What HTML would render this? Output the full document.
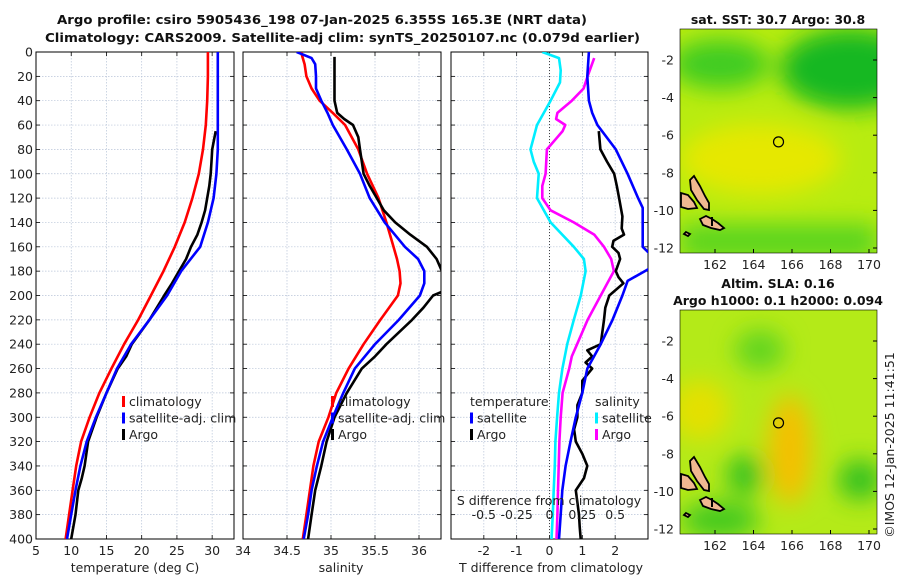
<!DOCTYPE html>
<html><head><meta charset="utf-8">
<style>
body{margin:0;background:#fff;}
svg{display:block;font-family:"DejaVu Sans","Liberation Sans",sans-serif;}
.t{font-size:12.5px;fill:#222;}
.b{font-size:12.5px;font-weight:bold;fill:#111;}
</style></head>
<body>
<svg id="c" width="900" height="580" viewBox="0 0 900 580">
<defs>
<clipPath id="cp1"><rect x="36" y="52" width="198" height="487"/></clipPath>
<clipPath id="cp2"><rect x="243" y="52" width="198" height="487"/></clipPath>
<clipPath id="cp3"><rect x="451" y="52" width="197" height="487"/></clipPath>
<filter id="bl"><feGaussianBlur stdDeviation="12"/></filter>
<clipPath id="m1c"><rect x="680" y="29" width="197" height="224"/></clipPath>
<clipPath id="m2c"><rect x="680" y="310" width="197" height="224"/></clipPath>
</defs>
<text class="b" x="57" y="24" textLength="530" lengthAdjust="spacingAndGlyphs">Argo profile: csiro 5905436_198 07-Jan-2025 6.355S 165.3E (NRT data)</text>
<text class="b" x="45" y="42" textLength="595" lengthAdjust="spacingAndGlyphs">Climatology: CARS2009. Satellite-adj clim: synTS_20250107.nc (0.079d earlier)</text>
<g id="g"></g>
</svg>
<script>
// ---- data ----
const depthT = [0,20,40,60,80,100,120,140,160,180,200,220,240,260,280,300,320,340,360,380,400];
const tempClim = [29.4,29.4,29.3,29.1,28.7,28.1,27.2,26.1,24.7,23.1,21.3,19.5,17.5,15.7,14.0,12.6,11.4,10.7,10.2,9.7,9.2];
const tempSat = [30.8,30.8,30.8,30.8,30.8,30.6,30.2,29.4,28.3,25.6,23.6,21.1,18.5,16.5,15.0,13.5,12.2,11.3,10.6,10.0,9.4];
const depthArgo = [65,80,90,100,110,120,130,140,150,160,170,180,190,200,220,240,250,260,280,300,320,340,350,360,380,400];
const tempArgo = [30.5,30.0,29.9,29.8,29.6,29.3,29.0,28.5,27.9,27.0,26.3,25.3,24.3,23.2,21.1,18.6,17.8,16.6,15.0,13.6,12.4,11.9,11.5,11.0,10.6,10.0];
const depthS = [0,5,10,20,30,40,50,60,80,100,120,140,160,170,180,190,200,220,240,260,280,300,320,340,360,380,400];
const salClim = [34.66,34.68,34.70,34.72,34.78,34.87,35.02,35.16,35.31,35.41,35.54,35.63,35.71,35.75,35.78,35.79,35.76,35.56,35.37,35.20,35.06,34.97,34.86,34.80,34.76,34.72,34.68];
const salSat = [34.61,34.78,34.82,34.83,34.83,34.89,34.96,35.02,35.18,35.33,35.44,35.61,35.84,35.99,36.06,36.06,36.01,35.77,35.50,35.27,35.14,35.02,34.91,34.84,34.78,34.74,34.69];
const depthSA = [4,20,40,50,55,60,70,80,100,110,120,130,140,150,160,170,180,190,197,200,210,220,240,250,260,280,300,320,340,360,380,400];
const salArgo = [35.04,35.04,35.04,35.07,35.15,35.25,35.31,35.33,35.37,35.44,35.52,35.60,35.73,35.90,36.09,36.20,36.26,36.40,36.26,36.16,36.05,35.92,35.63,35.50,35.35,35.18,35.04,34.95,34.89,34.82,34.78,34.74];
const depthD = [0,20,40,50,60,80,100,120,128,140,160,167,177,188,200,220,240,260,280,300,320,340,360,380,400];
const tdiffSat = [1.2,1.15,1.2,1.3,1.46,2.02,2.38,2.7,2.84,2.84,2.84,3.1,3.1,2.38,2.22,1.92,1.56,1.15,1.0,0.8,0.64,0.49,0.39,0.34,0.29];
const depthDA = [65,80,90,100,110,120,135,145,150,155,160,165,170,180,185,190,200,210,220,240,245,250,255,260,270,280,290,300,310,320,330,340,350,360,370,380,390,400];
const tdiffArgo = [1.5,1.55,1.75,1.97,2.05,2.12,2.22,2.2,2.27,1.95,1.91,2.1,2.15,2.02,2.1,2.25,1.82,1.7,1.66,1.56,1.15,1.3,1.1,1.3,1.0,1.0,0.85,0.85,0.75,0.8,1.0,1.15,1.05,0.8,0.85,0.9,0.92,0.95];
const depthDS = [0,5,15,25,40,60,80,90,100,120,140,160,170,180,200,220,240,260,280,300,320,340,360,380,400];
const sdiffSat = [-0.055,0.072,0.085,0.08,0.008,-0.095,-0.145,-0.12,-0.082,-0.095,0.008,0.185,0.262,0.275,0.238,0.185,0.135,0.098,0.072,0.058,0.045,0.04,0.032,0.025,0.015];
const depthDM = [5,20,30,40,50,55,60,65,70,80,100,110,120,130,140,150,160,170,180,190,200,220,240,250,260,280,300,320,340,360,380,400];
const sdiffArgo = [0.34,0.29,0.26,0.17,0.06,0.05,0.12,0.1,0.06,-0.02,-0.03,-0.055,-0.055,0.008,0.185,0.34,0.415,0.47,0.49,0.44,0.39,0.29,0.21,0.17,0.15,0.1,0.085,0.075,0.07,0.065,0.06,0.053];
const tempTicks = [5,10,15,20,25,30];
const salTicks = [34,34.5,35,35.5,36];
const tdTicks = [-2,-1,0,1,2];
const sdTicks = [-0.5,-0.25,0,0.25,0.5];
const depthTicks = [0,20,40,60,80,100,120,140,160,180,200,220,240,260,280,300,320,340,360,380,400];
const lonTicks = [162,164,166,168,170];
const latTicks = [-2,-4,-6,-8,-10,-12];
const argoLon = 165.3, argoLat = -6.355;

const NS="http://www.w3.org/2000/svg";
const G=document.getElementById('g');
function mk(tag,attrs,parent){const e=document.createElementNS(NS,tag);for(const k in attrs)e.setAttribute(k,attrs[k]);(parent||G).appendChild(e);return e;}
const Y0=52,Y1=539;
const yD=d=>Y0+d*(Y1-Y0)/400;
const xT=v=>36+(v-5)*198/28.1;
const xS=v=>243+(v-34)*88;
const xTD=v=>451+(v+3)*197/6;
const xSD=v=>xTD(v*4);

function panel(x0,w,ticks,xf,name,label,lblX,showY){
  const pg=mk('g',{});
  
  
  ticks.forEach(t=>{const x=xf(t);mk('line',{x1:x,x2:x,y1:Y0,y2:Y1,stroke:'#b8c4d8','stroke-width':0.7,'stroke-dasharray':'1.5,1.5'},pg);
    mk('line',{x1:x,x2:x,y1:Y1,y2:Y1-4,stroke:'#000','stroke-width':0.8},pg);mk('line',{x1:x,x2:x,y1:Y0,y2:Y0+4,stroke:'#000','stroke-width':0.8},pg);
    const tx=mk('text',{x:x,y:Y1+16,'text-anchor':'middle',class:'t'},pg);tx.textContent=String(t);
    });
  depthTicks.forEach(d=>{const y=yD(d);mk('line',{x1:x0,x2:x0+w,y1:y,y2:y,stroke:'#b8c4d8','stroke-width':0.7,'stroke-dasharray':'1.5,1.5'},pg);
    mk('line',{x1:x0,x2:x0+4,y1:y,y2:y,stroke:'#000','stroke-width':0.8},pg);mk('line',{x1:x0+w,x2:x0+w-4,y1:y,y2:y,stroke:'#000','stroke-width':0.8},pg);
    if(showY){const tx=mk('text',{x:x0-3,y:y+4.5,'text-anchor':'end',class:'t'},pg);tx.textContent=String(d);
      }});
  mk('rect',{x:x0,y:Y0,width:w,height:Y1-Y0,fill:'none',stroke:'#000','stroke-width':1},pg);
  const l=mk('text',{x:lblX,y:572,'text-anchor':'middle',class:'t'},pg);l.textContent=label;
  
}
panel(36,198,tempTicks,xT,'temperature-panel','temperature (deg C)',135,true);
mk('text',{x:243,y:Y1+16,'text-anchor':'middle',class:'t'}).textContent='34';
panel(243,198,salTicks.slice(1),xS,'salinity-panel','salinity',341,false);
panel(451,197,tdTicks,xTD,'difference-panel','T difference from climatology',551,false);
mk('line',{x1:xTD(0),x2:xTD(0),y1:Y0,y2:Y1,stroke:'#333','stroke-width':0.9,'stroke-dasharray':'1,2'});

function series(ds,vs,xf,color,clip,name){
  const pts=ds.map((d,i)=>xf(vs[i]).toFixed(1)+','+yD(d).toFixed(1)).join(' ');
  const p=mk('polyline',{points:pts,fill:'none',stroke:color,'stroke-width':2.6,'stroke-linejoin':'round','clip-path':'url(#'+clip+')'});
  
  
}
series(depthT,tempClim,xT,'#f00','cp1','temp-climatology-line');
series(depthArgo,tempArgo,xT,'#000','cp1','temp-argo-line');
series(depthT,tempSat,xT,'#00f','cp1','temp-satellite-line');
series(depthS,salClim,xS,'#f00','cp2','sal-climatology-line');
series(depthSA,salArgo,xS,'#000','cp2','sal-argo-line');
series(depthS,salSat,xS,'#00f','cp2','sal-satellite-line');
series(depthDS,sdiffSat,xSD,'#0ef','cp3','sdiff-satellite-line');
series(depthDM,sdiffArgo,xSD,'#f0f','cp3','sdiff-argo-line');
series(depthDA,tdiffArgo,xTD,'#000','cp3','tdiff-argo-line');
series(depthD,tdiffSat,xTD,'#00f','cp3','tdiff-satellite-line');

const sl=mk('text',{x:549,y:505,'text-anchor':'middle',class:'t'});sl.textContent='S difference from climatology';

sdTicks.forEach(t=>{const tx=mk('text',{x:xSD(t),y:519,'text-anchor':'middle',class:'t'});tx.textContent=String(t);
  });

function legend(x,y,items,name){
  const lg=mk('g',{});
  items.forEach((it,i)=>{const yy=y+i*16.5;
    if(it[1]) mk('rect',{x:x,y:yy-9,width:3,height:11,fill:it[1]},lg);
    const t=mk('text',{x:x+(it[1]?7:0),y:yy+1,class:'t'},lg);t.textContent=it[0];});
}
legend(122,405,[['climatology','#f00'],['satellite-adj. clim','#00f'],['Argo','#000']],'temp-legend');
legend(331,405,[['climatology','#f00'],['satellite-adj. clim','#00f'],['Argo','#000']],'sal-legend');
legend(470,405,[['temperature',null],['satellite','#00f'],['Argo','#000']],'tdiff-legend');
legend(595,405,[['salinity',null],['satellite','#0ef'],['Argo','#f0f']],'sdiff-legend');

// ---- maps ----
const mxf=lon=>715+(lon-162)*19.25;
function map(top,name,title,sst){
  const mg=mk('g',{});
  const my=lat=>top+31+(-2-lat)*18.8;
  const cg=mk('g',{'clip-path':'url(#'+(sst?'m1c':'m2c')+')'},mg);
  mk('rect',{x:680,y:top,width:197,height:224,fill:sst?'#b8ec10':'#b4ea18'},cg);
  const bg=mk('g',{filter:'url(#bl)'},cg);
  if(sst){
    mk('ellipse',{cx:850,cy:top+40,rx:70,ry:40,fill:'#16b820'},bg);
    mk('ellipse',{cx:720,cy:top+35,rx:50,ry:25,fill:'#40cc20'},bg);
    mk('ellipse',{cx:760,cy:top+130,rx:80,ry:35,fill:'#e6e800'},bg);
    mk('rect',{x:680,y:top+195,width:197,height:35,fill:'#58d420'},bg);
  } else {
    mk('ellipse',{cx:790,cy:top+140,rx:22,ry:55,fill:'#f4c000'},bg);
    mk('ellipse',{cx:700,cy:top+100,rx:30,ry:30,fill:'#e4e000'},bg);
    mk('ellipse',{cx:745,cy:top+165,rx:18,ry:20,fill:'#30c020'},bg);
    mk('ellipse',{cx:860,cy:top+170,rx:22,ry:20,fill:'#30c020'},bg);
    mk('ellipse',{cx:760,cy:top+40,rx:25,ry:20,fill:'#60d420'},bg);
    mk('ellipse',{cx:720,cy:top+210,rx:40,ry:18,fill:'#40c820'},bg);
  }
  const o=top-29;
  [[ '690,180 694,176 700,186 705,196 709,203 709,210 704,209 697,200 691,190'],
   ['681,193 688,195 694,202 697,208 688,209 681,207'],
   ['700,219 706,216 712,219 718,223 724,228 720,230 711,228 703,225'],
   ['686,232 690,234 688,236 684,234']].forEach(p=>{
     const pts=p[0].split(' ').map(s=>{const a=s.split(',');return a[0]+','+(+a[1]+o);}).join(' ');
     mk('polygon',{points:pts,fill:'#f0b890',stroke:'#000','stroke-width':1.8},cg);});
  mk('line',{x1:712,y1:top+188,x2:712,y2:top+197,stroke:'#000','stroke-width':2},cg);
  mk('circle',{cx:mxf(argoLon),cy:my(argoLat),r:5,fill:'none',stroke:'#000','stroke-width':1.2},mg);
  mk('rect',{x:680,y:top,width:197,height:224,fill:'none',stroke:'#000','stroke-width':0.6},mg);
  lonTicks.forEach(t=>{const x=mxf(t);mk('line',{x1:x,x2:x,y1:top+224,y2:top+220,stroke:'#000'},mg);
    const tx=mk('text',{x:x,y:top+240,'text-anchor':'middle',class:'t'},mg);tx.textContent=String(t);});
  latTicks.forEach(t=>{const y=my(t);mk('line',{x1:877,x2:873,y1:y,y2:y,stroke:'#000'},mg);
    const tx=mk('text',{x:674,y:y+4.5,'text-anchor':'end',class:'t'},mg);tx.textContent=String(t);});
  title.forEach((s,i)=>{const tx=mk('text',{x:778,y:top-5-(title.length-1-i)*17,'text-anchor':'middle',class:'b'},mg);tx.textContent=s;});
}
map(29,'sst-map',['sat. SST: 30.7 Argo: 30.8'],true);
map(310,'sla-map',['Altim. SLA: 0.16','Argo h1000: 0.1 h2000: 0.094'],false);
const im=mk('text',{x:0,y:0,class:'t','text-anchor':'middle',transform:'translate(894,445) rotate(-90)'});
im.textContent='©IMOS 12-Jan-2025 11:41:51';


</script>
</body></html>
